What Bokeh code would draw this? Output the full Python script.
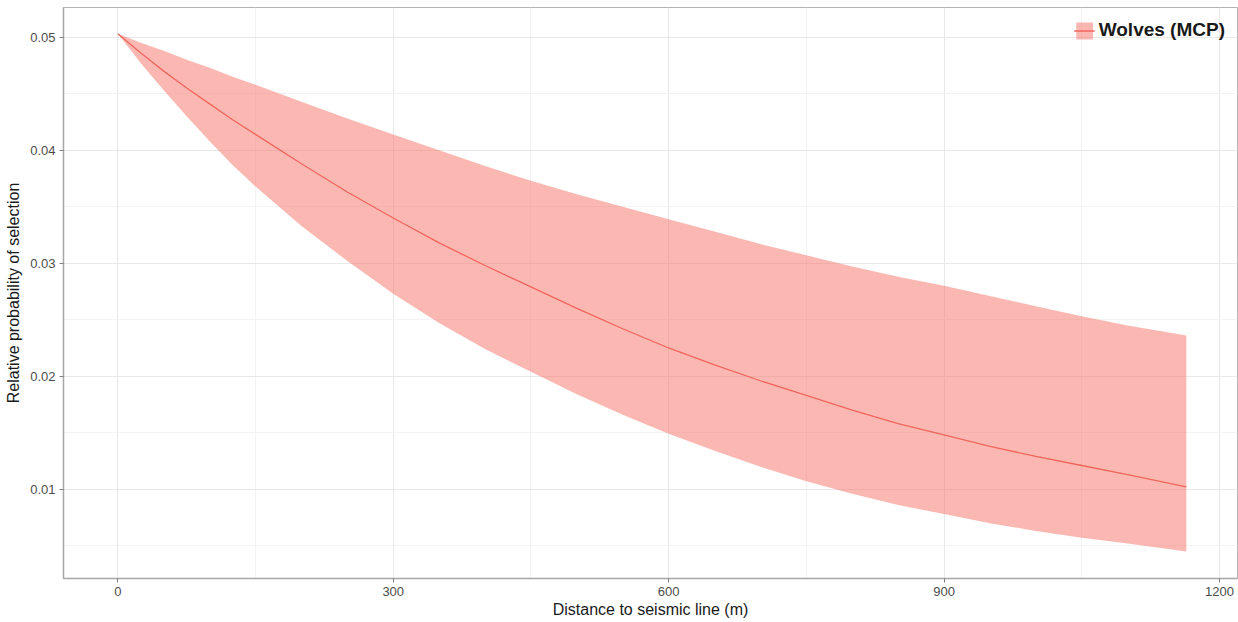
from bokeh.plotting import figure
from bokeh.models import Range1d, FixedTicker, Legend, LegendItem, ColumnDataSource
from bokeh.embed import file_html
from bokeh.resources import INLINE

# Data
distance = [0, 25, 50, 75, 100, 125, 150, 200, 250, 300, 350, 400, 450, 500, 550, 600,
            650, 700, 750, 800, 850, 900, 950, 1000, 1050, 1100, 1164]
mean_prob = [0.0503, 0.0486, 0.0470, 0.0455, 0.0441, 0.0427, 0.0414, 0.0388, 0.0363, 0.0340,
             0.0318, 0.0298, 0.0279, 0.0260, 0.0242, 0.0225, 0.0210, 0.0196, 0.0183, 0.0170,
             0.0158, 0.0148, 0.0138, 0.0129, 0.0121, 0.0113, 0.0102]
upper_prob = [0.0503, 0.0495, 0.0488, 0.0480, 0.0473, 0.0465, 0.0458, 0.0443, 0.0428, 0.0414,
              0.0400, 0.0386, 0.0373, 0.0361, 0.0350, 0.0339, 0.0328, 0.0317, 0.0307, 0.0297,
              0.0288, 0.0280, 0.0271, 0.0262, 0.0253, 0.0245, 0.0236]
lower_prob = [0.0503, 0.0477, 0.0453, 0.0430, 0.0408, 0.0387, 0.0368, 0.0333, 0.0302, 0.0273,
              0.0247, 0.0224, 0.0204, 0.0184, 0.0166, 0.0149, 0.0134, 0.0120, 0.0107, 0.0096,
              0.0086, 0.0078, 0.0070, 0.0063, 0.0057, 0.0052, 0.0045]
x_ticks = [0, 300, 600, 900, 1200]
x_minor = [150, 450, 750, 1050]
y_ticks = [0.01, 0.02, 0.03, 0.04, 0.05]
y_minor = [0.005, 0.015, 0.025, 0.035, 0.045]
series_name = "Wolves (MCP)"

src = ColumnDataSource(dict(x=distance, y=mean_prob, lo=lower_prob, hi=upper_prob))

p = figure(width=1238, height=622, output_backend="svg", toolbar_location=None,
           x_range=Range1d(-59.2, 1219.7), y_range=Range1d(0.0021, 0.05263),
           min_border_left=63, min_border_right=1, min_border_top=7, min_border_bottom=44)
p.background_fill_color = "white"
p.border_fill_color = "white"
p.outline_line_color = "#b3b3b3"
p.outline_line_width = 1

band = p.varea(x="x", y1="lo", y2="hi", source=src, fill_color="#F8766D", fill_alpha=0.52)
line = p.line(x="x", y="y", source=src, line_color="#F0655C", line_width=1.3)

p.xaxis.ticker = FixedTicker(ticks=x_ticks, minor_ticks=x_minor)
p.yaxis.ticker = FixedTicker(ticks=y_ticks, minor_ticks=y_minor)

for ax in (p.xaxis, p.yaxis):
    ax.axis_line_color = "#a6a6a6"
    ax.axis_line_width = 1.5
    ax.major_tick_line_color = "#7f7f7f"
    ax.major_tick_out = 4
    ax.major_tick_in = 0
    ax.minor_tick_line_color = None
    ax.major_label_text_color = "#4d4d4d"
    ax.major_label_text_font = "Liberation Sans"
    ax.major_label_text_font_size = "13px"
    ax.axis_label_text_font = "Liberation Sans"
    ax.axis_label_text_font_size = "16px"
    ax.axis_label_text_font_style = "normal"
    ax.axis_label_text_color = "#1a1a1a"

p.xaxis.axis_label = "Distance to seismic line (m)"
p.yaxis.axis_label = "Relative probability of selection"
p.xaxis.major_label_standoff = 4
p.xaxis.axis_label_standoff = 2
p.yaxis.major_label_standoff = 4
p.yaxis.axis_label_standoff = 5

for g in (p.xgrid, p.ygrid):
    g.grid_line_color = "#e8e8e8"
    g.grid_line_width = 1
    g.minor_grid_line_color = "#f3f3f3"
    g.minor_grid_line_width = 1

legend = Legend(items=[LegendItem(label=series_name, renderers=[band, line])],
                location="top_right")
legend.label_text_font = "Liberation Sans"
legend.label_text_font_style = "bold"
legend.label_text_font_size = "19px"
legend.label_text_color = "#1a1a1a"
legend.background_fill_alpha = 0
legend.border_line_color = None
legend.margin = 12
legend.padding = 5
legend.label_standoff = 4
legend.glyph_width = 21
legend.glyph_height = 21
p.add_layout(legend)

open("out.html", "w").write(file_html(p, INLINE))
